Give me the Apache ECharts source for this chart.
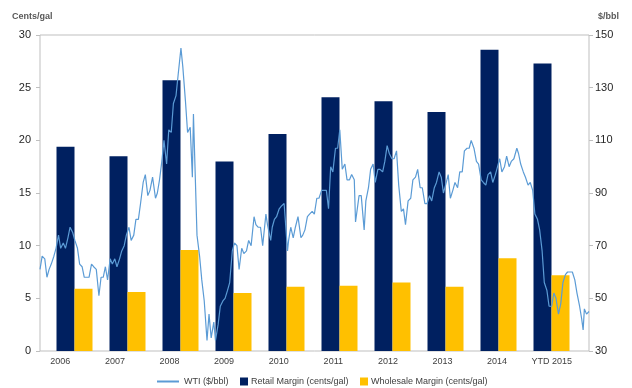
<!DOCTYPE html>
<html lang="en">
<head>
    <meta charset="UTF-8">
    <title>Margins and WTI</title>
    <script src="https://cdn.jsdelivr.net/npm/echarts@6/dist/echarts.min.js"></script>
    <style>
        html, body { margin: 0; padding: 0; background: #fff; }
        #chart { width: 632px; height: 388px; }
    </style>
</head>
<body>
<div id="chart"></div>
<script>
    // categories and bar values (cents/gal)
    var years = ['2006', '2007', '2008', '2009', '2010', '2011', '2012', '2013', '2014', 'YTD 2015'];
    var retailMargin = [19.4, 18.5, 25.7, 18.0, 20.6, 24.1, 23.7, 22.7, 28.6, 27.3];
    var wholesaleMargin = [5.9, 5.6, 9.6, 5.5, 6.1, 6.2, 6.5, 6.1, 8.8, 7.2];

    // WTI ($/bbl), read off the line roughly twice a month
    var wti = [
        ['2006-01-01', 61], ['2006-01-15', 66], ['2006-02-01', 65], ['2006-02-15', 58],
        ['2006-03-01', 61], ['2006-03-15', 63], ['2006-04-01', 66], ['2006-04-15', 69],
        ['2006-05-01', 74], ['2006-05-15', 69], ['2006-06-01', 71], ['2006-06-15', 69],
        ['2006-07-01', 73], ['2006-07-15', 77], ['2006-08-01', 75], ['2006-08-15', 72],
        ['2006-09-01', 69], ['2006-09-15', 63], ['2006-10-01', 62], ['2006-10-15', 58],
        ['2006-11-01', 58], ['2006-11-15', 58], ['2006-12-01', 63], ['2006-12-15', 62],
        ['2007-01-01', 61], ['2007-01-18', 51], ['2007-02-01', 58], ['2007-02-15', 58],
        ['2007-03-01', 62], ['2007-03-15', 57], ['2007-04-01', 65], ['2007-04-15', 63],
        ['2007-05-01', 65], ['2007-05-15', 62], ['2007-06-01', 65], ['2007-06-15', 68],
        ['2007-07-01', 70], ['2007-07-15', 74], ['2007-08-01', 77], ['2007-08-15', 72],
        ['2007-09-01', 74], ['2007-09-15', 80], ['2007-10-01', 80], ['2007-10-15', 86],
        ['2007-11-01', 94], ['2007-11-15', 97], ['2007-12-01', 89], ['2007-12-15', 91],
        ['2008-01-01', 96], ['2008-01-20', 88], ['2008-02-01', 90], ['2008-02-15', 95],
        ['2008-03-01', 102], ['2008-03-15', 110], ['2008-04-01', 101], ['2008-04-15', 114],
        ['2008-05-01', 113], ['2008-05-15', 124], ['2008-06-01', 127], ['2008-06-15', 135],
        ['2008-07-03', 145], ['2008-07-15', 138], ['2008-08-01', 125], ['2008-08-15', 113],
        ['2008-09-01', 115], ['2008-09-15', 96], ['2008-09-22', 120], ['2008-10-01', 102],
        ['2008-10-15', 74], ['2008-11-01', 66], ['2008-11-15', 57], ['2008-12-01', 49],
        ['2008-12-19', 34], ['2009-01-01', 44], ['2009-01-15', 35], ['2009-02-01', 41],
        ['2009-02-12', 34], ['2009-03-01', 40], ['2009-03-15', 47], ['2009-04-01', 49],
        ['2009-04-15', 50], ['2009-05-01', 53], ['2009-05-15', 56], ['2009-06-01', 68],
        ['2009-06-15', 71], ['2009-07-01', 70], ['2009-07-15', 61], ['2009-08-01', 69],
        ['2009-08-15', 67], ['2009-09-01', 68], ['2009-09-15', 72], ['2009-10-01', 70],
        ['2009-10-20', 81], ['2009-11-01', 78], ['2009-11-15', 77], ['2009-12-01', 77],
        ['2009-12-15', 70], ['2010-01-05', 82], ['2010-01-15', 78], ['2010-02-05', 72],
        ['2010-02-15', 77], ['2010-03-01', 80], ['2010-03-15', 81], ['2010-04-01', 84],
        ['2010-04-15', 85], ['2010-05-03', 86], ['2010-05-25', 68], ['2010-06-01', 72],
        ['2010-06-15', 77], ['2010-07-01', 73], ['2010-07-15', 77], ['2010-08-01', 81],
        ['2010-08-20', 73], ['2010-09-01', 74], ['2010-09-15', 76], ['2010-10-01', 81],
        ['2010-10-15', 82], ['2010-11-01', 83], ['2010-11-15', 82], ['2010-12-01', 88],
        ['2010-12-15', 88], ['2011-01-01', 91], ['2011-01-15', 91], ['2011-02-01', 91],
        ['2011-02-15', 84], ['2011-03-01', 100], ['2011-03-15', 98], ['2011-04-01', 107],
        ['2011-04-15', 107], ['2011-04-29', 114], ['2011-05-15', 99], ['2011-06-01', 101],
        ['2011-06-15', 95], ['2011-07-01', 95], ['2011-07-15', 97], ['2011-08-01', 95],
        ['2011-08-09', 79], ['2011-09-01', 89], ['2011-09-15', 89], ['2011-10-04', 76],
        ['2011-10-15', 87], ['2011-11-01', 92], ['2011-11-15', 99], ['2011-12-01', 101],
        ['2011-12-15', 94], ['2012-01-01', 99], ['2012-01-15', 99], ['2012-02-01', 98],
        ['2012-02-15', 102], ['2012-03-01', 108], ['2012-03-15', 105], ['2012-04-01', 103],
        ['2012-04-15', 103], ['2012-05-01', 106], ['2012-05-15', 93], ['2012-06-01', 83],
        ['2012-06-15', 84], ['2012-06-28', 78], ['2012-07-15', 87], ['2012-08-01', 88],
        ['2012-08-15', 95], ['2012-09-01', 96], ['2012-09-15', 99], ['2012-10-01', 92],
        ['2012-10-15', 92], ['2012-11-01', 86], ['2012-11-15', 86], ['2012-12-01', 89],
        ['2012-12-15', 87], ['2013-01-01', 92], ['2013-01-15', 94], ['2013-02-01', 98],
        ['2013-02-15', 96], ['2013-03-01', 90], ['2013-03-15', 93], ['2013-04-01', 97],
        ['2013-04-15', 88], ['2013-05-01', 91], ['2013-05-15', 94], ['2013-06-01', 92],
        ['2013-06-15', 98], ['2013-07-01', 98], ['2013-07-15', 106], ['2013-08-01', 107],
        ['2013-08-15', 107], ['2013-08-28', 110], ['2013-09-15', 107], ['2013-10-01', 102],
        ['2013-10-15', 101], ['2013-11-01', 95], ['2013-11-15', 94], ['2013-12-01', 93],
        ['2013-12-15', 97], ['2014-01-01', 98], ['2014-01-15', 94], ['2014-02-01', 97],
        ['2014-02-15', 100], ['2014-03-01', 103], ['2014-03-15', 98], ['2014-04-01', 100],
        ['2014-04-15', 104], ['2014-05-01', 100], ['2014-05-15', 102], ['2014-06-01', 103],
        ['2014-06-20', 107], ['2014-07-01', 105], ['2014-07-15', 101], ['2014-08-01', 98],
        ['2014-08-15', 96], ['2014-09-01', 93], ['2014-09-15', 94], ['2014-10-01', 91],
        ['2014-10-15', 82], ['2014-11-01', 80], ['2014-11-15', 76], ['2014-12-01', 68],
        ['2014-12-15', 56], ['2015-01-01', 53], ['2015-01-15', 47], ['2015-02-01', 47],
        ['2015-02-15', 52], ['2015-03-01', 50], ['2015-03-17', 44], ['2015-04-01', 48],
        ['2015-04-15', 56], ['2015-05-01', 59], ['2015-05-15', 60], ['2015-06-01', 60],
        ['2015-06-15', 60], ['2015-07-01', 57], ['2015-07-15', 52], ['2015-08-01', 47],
        ['2015-08-15', 42], ['2015-08-24', 38], ['2015-09-01', 46], ['2015-09-15', 44],
        ['2015-10-01', 45]
    ];

    var leftTicks = { min: 0, max: 30, step: 5 };
    var rightTicks = { min: 30, max: 150, step: 20 };

    var font = 'Liberation Sans, Arial, sans-serif';
    var txt = '#404040';
    var axisGrey = '#bfbfbf';
    var lineBlue = '#5b9bd5';

    var myChart = echarts.init(document.getElementById('chart'));

    var option = {
        backgroundColor: '#fff',
        animation: false,
        textStyle: { fontFamily: font },
        graphic: [
            { type: 'text', left: 12, top: 12, style: { text: 'Cents/gal', fontSize: 9, fontWeight: 'bold', fill: '#595959', fontFamily: font } },
            { type: 'text', left: 598, top: 12, style: { text: '$/bbl', fontSize: 9, fontWeight: 'bold', fill: '#595959', fontFamily: font } }
        ],
        legend: [
            {
                data: [{ name: 'WTI ($/bbl)', icon: 'rect', itemStyle: { color: lineBlue } }],
                left: 157, top: 377, padding: 0, itemWidth: 22, itemHeight: 2,
                textStyle: { fontSize: 9, color: txt }
            },
            {
                data: [{ name: 'Retail Margin (cents/gal)', icon: 'rect' }],
                left: 240, top: 377, padding: 0, itemWidth: 8, itemHeight: 8, itemGap: 3,
                textStyle: { fontSize: 9, color: txt, padding: [0, 0, 0, -2] }
            },
            {
                data: [{ name: 'Wholesale Margin (cents/gal)', icon: 'rect' }],
                left: 360, top: 377, padding: 0, itemWidth: 8, itemHeight: 8,
                textStyle: { fontSize: 9, color: txt, padding: [0, 0, 0, -2] }
            }
        ],
        grid: [
            // bars
            { left: 48, right: 54, top: 35, bottom: 37 },
            // frame, y axes and the WTI line
            { left: 40, right: 43, top: 35, bottom: 37, show: true, borderColor: axisGrey, borderWidth: 1 },
            // year labels
            { left: 33, right: 53, top: 35, bottom: 37 }
        ],
        xAxis: [
            { type: 'category', gridIndex: 0, data: years, show: false },
            { type: 'time', gridIndex: 1, min: '2006-01-01', max: '2015-10-01', show: false },
            {
                type: 'category', gridIndex: 2, data: years,
                axisLine: { show: false }, axisTick: { show: false },
                axisLabel: { fontSize: 9, color: txt, margin: 6, interval: 0 }
            }
        ],
        yAxis: [
            { type: 'value', gridIndex: 0, min: 0, max: 30, show: false },
            {
                type: 'value', gridIndex: 1, position: 'left',
                min: leftTicks.min, max: leftTicks.max, interval: leftTicks.step,
                splitLine: { show: false },
                axisLine: { show: false },
                axisTick: { show: true, length: 4, lineStyle: { color: axisGrey } },
                axisLabel: { fontSize: 11, color: '#262626', margin: 9 }
            },
            {
                // label axis for $/bbl, shifted so that ticks land on 30, 50, ... 150
                type: 'value', gridIndex: 1, position: 'right',
                min: 0, max: rightTicks.max - rightTicks.min, interval: rightTicks.step,
                splitLine: { show: false },
                axisLine: { show: false },
                axisTick: { show: true, length: 4, lineStyle: { color: axisGrey } },
                axisLabel: {
                    fontSize: 11, color: '#262626', margin: 6,
                    formatter: function (v) { return v + rightTicks.min; }
                }
            },
            { type: 'value', gridIndex: 1, position: 'right', min: rightTicks.min, max: rightTicks.max, show: false },
            { type: 'value', gridIndex: 2, min: 0, max: 30, show: false }
        ],
        series: [
            {
                name: 'Retail Margin (cents/gal)', type: 'bar',
                xAxisIndex: 0, yAxisIndex: 0,
                data: retailMargin, barWidth: 18, barGap: '0%',
                itemStyle: { color: '#002060' }, z: 2
            },
            {
                name: 'Wholesale Margin (cents/gal)', type: 'bar',
                xAxisIndex: 0, yAxisIndex: 0,
                data: wholesaleMargin, barWidth: 18, barGap: '0%',
                itemStyle: { color: '#ffc000' }, z: 2
            },
            {
                name: 'WTI ($/bbl)', type: 'line',
                xAxisIndex: 1, yAxisIndex: 3,
                data: wti, symbol: 'none',
                lineStyle: { color: lineBlue, width: 1.2 },
                itemStyle: { color: lineBlue },
                z: 5
            }
        ]
    };

    myChart.setOption(option);
</script>
</body>
</html>
